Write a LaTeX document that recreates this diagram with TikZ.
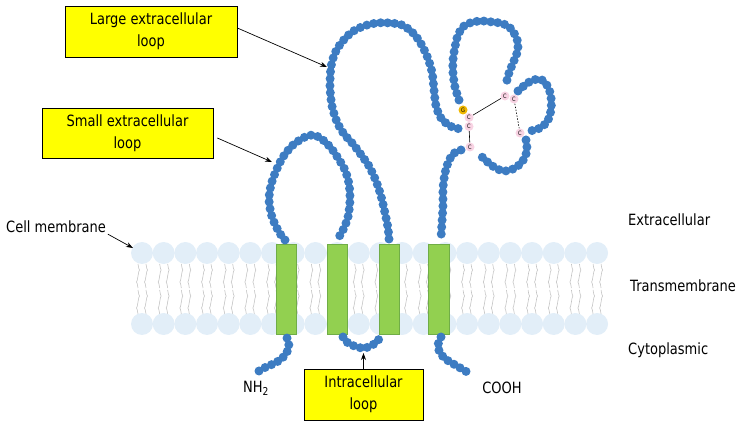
\documentclass[tikz,border=0pt]{standalone}
\usepackage{fontspec}
\setmainfont{DejaVu Sans}[FakeStretch=0.84]
\usetikzlibrary{arrows.meta,positioning,calc}
\definecolor{beadBlue}{HTML}{3D7CC2}
\definecolor{headBlue}{HTML}{DDEBF7}
\definecolor{tailGray}{HTML}{C4C4C4}
\definecolor{helixGreen}{HTML}{92D050}
\definecolor{helixEdge}{HTML}{70AD47}
\definecolor{cysPink}{HTML}{F8D3E3}
\definecolor{glyGold}{HTML}{F0B800}
\definecolor{calloutYellow}{HTML}{FFFF00}

\begin{document}
\begin{tikzpicture}[x=1pt, y=-1pt,
  every node/.style={font=\fontsize{15.5}{22}\selectfont},
  head/.style={fill=headBlue, fill opacity=0.85},
  tail/.style={draw=tailGray, line width=0.6pt},
  helix/.style={rectangle, draw=helixEdge, fill=helixGreen, line width=0.8pt, minimum width=20.5pt, minimum height=90pt, inner sep=0pt},
  chain/.style={draw=beadBlue, line width=9pt, line cap=round, dash pattern=on 0pt off 7pt},
  cys/.style={circle, fill=cysPink, inner sep=0pt, minimum size=9pt, font=\fontsize{6}{6}\selectfont},
  gly/.style={cys, fill=glyGold},
  bond/.style={line width=0.6pt},
  callout/.style={rectangle, draw=black, fill=calloutYellow, line width=0.7pt, align=center, inner sep=0pt},
  pointer/.style={-{Stealth[length=7pt,width=5pt]}, line width=0.7pt},
  side/.style={anchor=west, inner sep=0pt}
]
\useasboundingbox (0,0) rectangle (742,427);

\foreach \i in {0,...,21}{
  \pgfmathsetmacro\hx{142+21.67*\i}
  \foreach \d in {-4,4}{
    \draw[tail] ({\hx+\d},264) sin ({\hx+\d+1.5},270) cos ({\hx+\d},276) sin ({\hx+\d-1.5},282) cos ({\hx+\d},288);
    \draw[tail] ({\hx+\d},290) sin ({\hx+\d+1.5},296) cos ({\hx+\d},302) sin ({\hx+\d-1.5},308) cos ({\hx+\d},314);
  }
  \fill[head] (\hx,253) circle (11pt);
  \fill[head] (\hx,324) circle (11pt);
}

\node[helix] (tm1) at (286.5,289) {};
\node[helix] (tm2) at (337.5,289) {};
\node[helix] (tm3) at (389.5,289) {};
\node[helix] (tm4) at (439,289) {};

\draw[chain] plot[smooth] coordinates {(259,371) (266,367) (273,364) (280,360) (285,355) (289,347) (287,338)};
\draw[chain] plot[smooth] coordinates {(285,240) (279,232) (272,217) (269,200) (271,185) (276,171) (283,157) (293,145) (305,137) (314,135) (323,140) (331,148) (338,158) (345,170) (349,184) (350,200) (348,217) (343,230) (337,240)};
\draw[chain] plot[smooth] coordinates {(343,337) (348,343) (357,347) (365,348) (374,344) (381,337)};
\draw[chain] plot[smooth] coordinates {(389,239) (388,228) (385,213) (381,196) (376,181) (369,166) (362,156) (353,144) (344,134) (337,122) (332,106) (330,87) (331,67) (335,53) (342,42) (352,32) (364,26) (377,23) (390,23) (402,25) (412,32) (420,42) (427,56) (432,72) (434,90) (436,106) (441,118) (450,126) (460,129)};
\draw[chain] plot[smooth] coordinates {(459,100) (455,87) (453,73) (453,60) (455,47) (458,35) (464,26) (473,22) (483,21) (492,22) (500,23) (508,26) (514,33) (518,43) (517,53) (513,63) (509,73) (506,84)};
\draw[chain] plot[smooth] coordinates {(518,91) (525,85) (533,80) (542,80) (548,87) (551,97) (551,110) (547,122) (538,129) (529,131)};
\draw[chain] plot[smooth] coordinates {(526,140) (527,150) (524,159) (519,165) (513,169) (505,171) (497,169) (490,164) (483,158) (478,152)};
\draw[chain] plot[smooth] coordinates {(461,150) (453,154) (448,163) (445,173) (443,188) (443,205) (442,222) (441,238)};
\draw[chain] plot[smooth] coordinates {(441,337) (438,345) (440,353) (447,360) (457,366) (467,372)};

\node[gly] (g1) at (463,110) {G};
\node[cys] (c1) at (469,117.5) {C};
\node[cys] (c2) at (469,126.5) {C};
\node[cys] (c3) at (505,96) {C};
\node[cys] (c4) at (514,99) {C};
\node[cys] (c5) at (520,133) {C};
\node[cys] (c6) at (470,147) {C};
\draw[bond] (c1) -- (c3);
\draw[bond, dash pattern=on 1.5pt off 1.5pt] (c4) -- (c5);
\draw[bond] (c2) -- (c6);

\node[callout, minimum width=172pt, minimum height=51pt] (lgLoop) at (151,31.5) {Large extracellular\\loop};
\node[callout, minimum width=171pt, minimum height=50pt] (smLoop) at (127.5,133) {Small extracellular\\loop};
\node[callout, minimum width=119pt, minimum height=51pt] (inLoop) at (363.5,394.5) {Intracellular\\loop};

\coordinate (lgTip) at (327,67);
\coordinate (smTip) at (272,162);
\coordinate (inTip) at (363.5,353);
\coordinate (memTip) at (133,248);

\node[side] (cellMem) at (6,227) {Cell membrane};
\node[side] (extra) at (628,220) {Extracellular};
\node[side] (trans) at (630,286) {Transmembrane};
\node[side] (cyto) at (628,350) {Cytoplasmic};
\node[side] (nh) at (243,388) {NH\textsubscript{2}};
\node (cooh) at (502,388) {COOH};

\draw[pointer] ([yshift=3.5pt]lgLoop.east) -- (lgTip);
\draw[pointer] ([xshift=4pt,yshift=-5pt]smLoop.east) -- (smTip);
\draw[pointer] (inLoop.north) -- (inTip);
\draw[pointer, shorten <=2pt] (cellMem.south east) -- (memTip);
\end{tikzpicture}
\end{document}
